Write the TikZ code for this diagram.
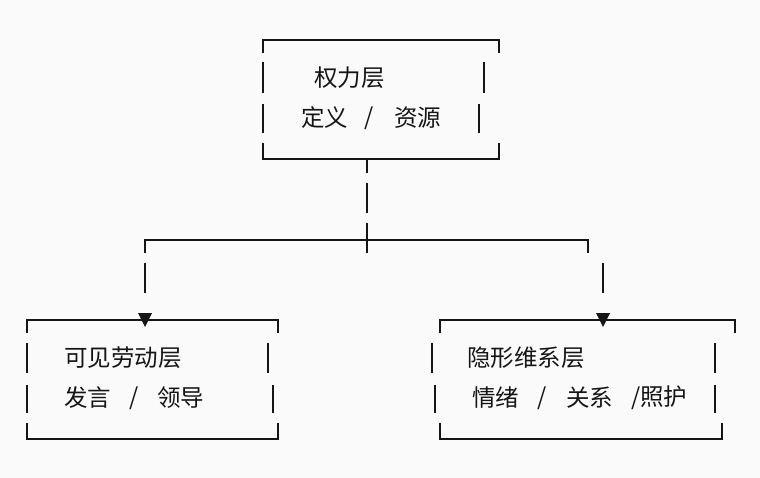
\documentclass[tikz,border=0pt]{standalone}
\usepackage{fontspec}
\setmainfont{Noto Sans CJK SC}
\definecolor{ink}{HTML}{151515}
\definecolor{bg}{HTML}{FAFAFA}
\begin{document}
\begin{tikzpicture}[x=1pt,y=-1pt,
  seg/.style={draw=ink,line width=2pt},
  txt/.style={inner sep=0pt,anchor=west,text=ink,font=\fontsize{23.5}{26}\selectfont},
  tip/.style={fill=ink}]
\fill[bg] (0,0) rectangle (760,478);
\useasboundingbox (0,0) rectangle (760,478);

% ---------- top box ----------
\draw[seg] (263,53) -- (263,40) -- (499,40) -- (499,53);
\draw[seg] (263,62) -- (263,93);
\draw[seg] (263,104) -- (263,133);
\draw[seg] (484,62) -- (484,93);
\draw[seg] (479,104) -- (479,133);
\draw[seg] (263,143) -- (263,159) -- (499,159) -- (499,143);
\node[txt] (t1) at (314,78) {权力层};
\node[txt] (t2a) at (301,118) {定义};
\node[txt] (t2b) at (364,118) {/};
\node[txt] (t2c) at (394,118) {资源};

% ---------- connector ----------
\draw[seg] (367,159) -- (367,173);
\draw[seg] (367,183) -- (367,213);
\draw[seg] (367,223) -- (367,253);
\draw[seg] (145,253) -- (145,240) -- (588,240) -- (588,253);
\draw[seg] (145,263) -- (145,293);
\draw[seg] (603,263) -- (603,293);

% ---------- left box ----------
\draw[seg] (27,333) -- (27,320) -- (278,320) -- (278,333);
\fill[tip] (138,313) -- (152,313) -- (145,327) -- cycle;
\draw[seg] (27,343) -- (27,373);
\draw[seg] (27,385) -- (27,413);
\draw[seg] (268,343) -- (268,373);
\draw[seg] (273,385) -- (273,413);
\draw[seg] (27,423) -- (27,439) -- (278,439) -- (278,423);
\node[txt] (l1) at (64,358) {可见劳动层};
\node[txt] (l2a) at (64,398) {发言};
\node[txt] (l2b) at (129,398) {/};
\node[txt] (l2c) at (157,398) {领导};

% ---------- right box ----------
\draw[seg] (440,333) -- (440,320) -- (735,320) -- (735,333);
\fill[tip] (596,313) -- (610,313) -- (603,327) -- cycle;
\draw[seg] (432,343) -- (432,373);
\draw[seg] (435,385) -- (435,413);
\draw[seg] (715,343) -- (715,373);
\draw[seg] (715,385) -- (715,413);
\draw[seg] (440,423) -- (440,439) -- (722,439) -- (722,423);
\node[txt] (r1) at (467,358) {隐形维系层};
\node[txt] (r2a) at (472,398) {情绪};
\node[txt] (r2b) at (537,398) {/};
\node[txt] (r2c) at (566,398) {关系};
\node[txt] (r2d) at (631,398) {/照护};
\end{tikzpicture}
\end{document}
